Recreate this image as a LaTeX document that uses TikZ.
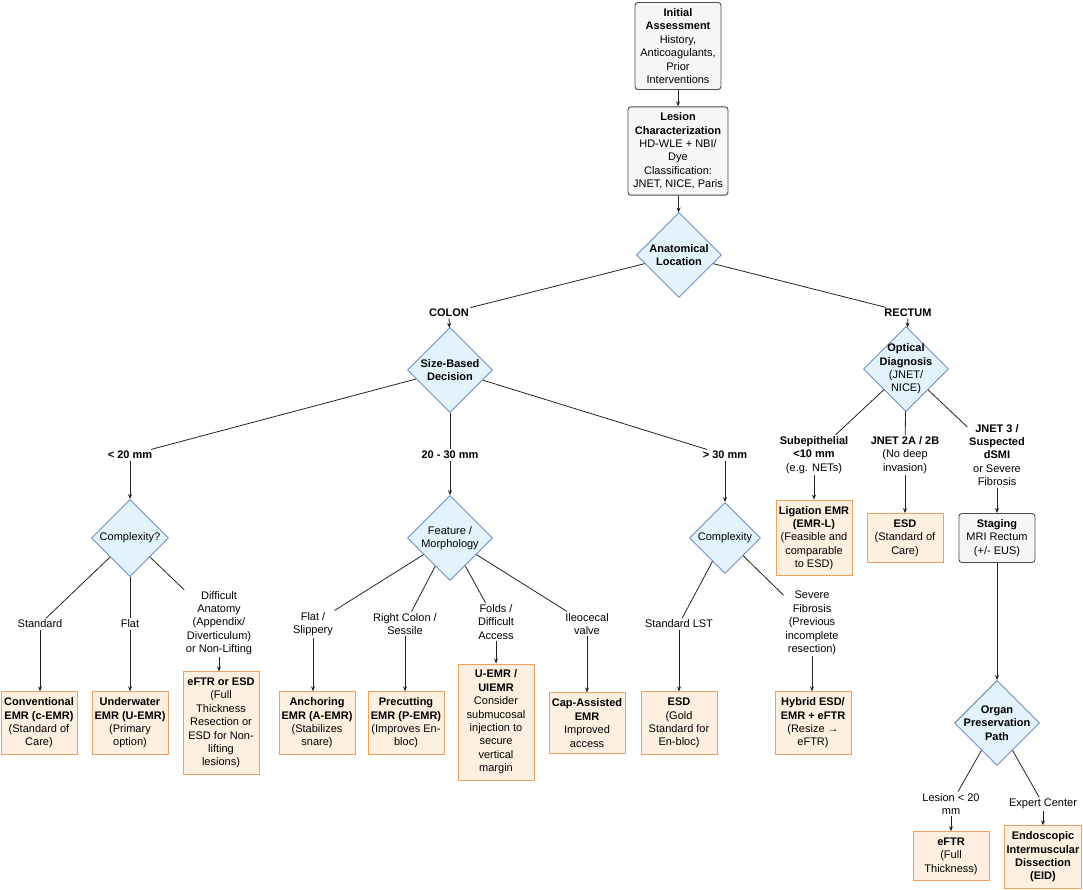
\documentclass[tikz,border=0pt]{standalone}
\usepackage{fontspec}
\setmainfont{Liberation Sans}
\usetikzlibrary{shapes.geometric, arrows.meta}
\definecolor{procfill}{HTML}{F6F6F6}
\definecolor{procdraw}{HTML}{4A4A4A}
\definecolor{actfill}{HTML}{FDF0E0}
\definecolor{actdraw}{HTML}{F2A05E}
\definecolor{decfill}{HTML}{E2F3FC}
\definecolor{decdraw}{HTML}{5B7DB8}
\definecolor{linkcol}{HTML}{222222}
\begin{document}
\begin{tikzpicture}[
    x=1pt, y=-1pt,
    font=\fontsize{11}{13.4}\selectfont,
    base/.style={align=center, inner xsep=2pt, inner ysep=6pt, line width=0.9pt},
    process/.style={base, rectangle, rounded corners=3pt, draw=procdraw, fill=procfill},
    action/.style={base, rectangle, draw=actdraw, fill=actfill, minimum width=76pt},
    decision/.style={diamond, draw=decdraw, fill=decfill, line width=0.8pt, inner sep=0pt, minimum width=#1, minimum height=#1},
    dlabel/.style={align=center, inner sep=0pt},
    edgelbl/.style={align=center, inner sep=1.5pt},
    link/.style={line width=0.8pt, draw=linkcol},
    arrow/.style={link, -{Stealth[length=5pt,width=4pt]}}
]
\useasboundingbox (0,0) rectangle (1083,890);

% Assessment
\node[process, minimum width=86pt] (init) at (678,46) {\textbf{Initial}\\\textbf{Assessment}\\History,\\Anticoagulants,\\Prior\\Interventions};
\node[process, minimum width=100pt] (lesion) at (678,151) {\textbf{Lesion}\\\textbf{Characterization}\\HD-WLE + NBI/\\Dye\\Classification:\\JNET, NICE, Paris};
\node[decision=85pt, label={[dlabel]center:\textbf{Anatomical}\\\textbf{Location}}] (loc) at (679,255) {};

% Colon side
\node[edgelbl, font=\fontsize{11}{13.4}\selectfont\bfseries] (colon) at (449,313) {COLON};
\node[decision=85pt, label={[dlabel]center:\textbf{Size-Based}\\\textbf{Decision}}] (size) at (450,370) {};
\node[edgelbl, font=\fontsize{11}{13.4}\selectfont\bfseries] (l20) at (130,455) {< 20 mm};
\node[edgelbl, font=\fontsize{11}{13.4}\selectfont\bfseries] (l2030) at (450,455) {20 - 30 mm};
\node[edgelbl, font=\fontsize{11}{13.4}\selectfont\bfseries] (l30) at (725,455) {> 30 mm};

% < 20 mm
\node[decision=77pt, label={[dlabel]center:Complexity?}] (cx1) at (130,538) {};
\node[edgelbl] (std) at (40,624) {Standard};
\node[edgelbl] (flat) at (130,624) {Flat};
\node[edgelbl] (diff) at (219,623) {Difficult\\Anatomy\\(Appendix/\\Diverticulum)\\or Non-Lifting};
\node[action] (conv) at (39,723) {\textbf{Conventional}\\\textbf{EMR (c-EMR)}\\(Standard of\\Care)};
\node[action] (uw) at (130,723) {\textbf{Underwater}\\\textbf{EMR (U-EMR)}\\(Primary\\option)};
\node[action] (eftr1) at (221,723) {\textbf{eFTR or ESD}\\(Full\\Thickness\\Resection or\\ESD for Non-\\lifting\\lesions)};

% 20 - 30 mm
\node[decision=85pt, label={[dlabel]center:Feature /\\Morphology}] (feat) at (450,538) {};
\node[edgelbl] (fsl) at (313,624) {Flat /\\Slippery};
\node[edgelbl] (rcs) at (405,624) {Right Colon /\\Sessile};
\node[edgelbl] (fda) at (496,622) {Folds /\\Difficult\\Access};
\node[edgelbl] (ileo) at (587,624) {Ileocecal\\valve};
\node[action] (anch) at (317,723) {\textbf{Anchoring}\\\textbf{EMR (A-EMR)}\\(Stabilizes\\snare)};
\node[action] (precut) at (406,723) {\textbf{Precutting}\\\textbf{EMR (P-EMR)}\\(Improves En-\\bloc)};
\node[action] (uemr) at (496,722) {\textbf{U-EMR /}\\\textbf{UIEMR}\\Consider\\submucosal\\injection to\\secure\\vertical\\margin};
\node[action] (cap) at (587,723) {\textbf{Cap-Assisted}\\\textbf{EMR}\\Improved\\access};

% > 30 mm
\node[decision=71pt, label={[dlabel]center:Complexity}] (cx2) at (725,538) {};
\node[edgelbl] (lst) at (679,624) {Standard LST};
\node[edgelbl] (sev) at (812,623) {Severe\\Fibrosis\\(Previous\\incomplete\\resection)};
\node[action] (esd1) at (679,723) {\textbf{ESD}\\(Gold\\Standard for\\En-bloc)};
\node[action] (hybrid) at (813,723) {\textbf{Hybrid ESD/}\\\textbf{EMR + eFTR}\\(Resize →\\eFTR)};

% Rectum side
\node[edgelbl, font=\fontsize{11}{13.4}\selectfont\bfseries] (rectum) at (908,313) {RECTUM};
\node[decision=85pt, label={[dlabel]center:\textbf{Optical}\\\textbf{Diagnosis}\\(JNET/\\NICE)}] (opt) at (906,369) {};
\node[edgelbl] (sub) at (814,455) {\textbf{Subepithelial}\\\textbf{<10 mm}\\(e.g. NETs)};
\node[edgelbl] (j2) at (905,455) {\textbf{JNET 2A / 2B}\\(No deep\\invasion)};
\node[edgelbl] (j3) at (997,455) {\textbf{JNET 3 /}\\\textbf{Suspected}\\\textbf{dSMI}\\or Severe\\Fibrosis};
\node[action] (lig) at (814,538) {\textbf{Ligation EMR}\\\textbf{(EMR-L)}\\(Feasible and\\comparable\\to ESD)};
\node[action] (esd2) at (905,538) {\textbf{ESD}\\(Standard of\\Care)};
\node[process, minimum width=76pt] (staging) at (997,538) {\textbf{Staging}\\MRI Rectum\\(+/- EUS)};
\node[decision=85pt, label={[dlabel]center:\textbf{Organ}\\\textbf{Preservation}\\\textbf{Path}}] (organ) at (997,723) {};
\node[edgelbl] (les20) at (951,804) {Lesion < 20\\mm};
\node[edgelbl] (expert) at (1043,804) {Expert Center};
\node[action] (eftr2) at (951,856) {\textbf{eFTR}\\(Full\\Thickness)};
\node[action] (eid) at (1043,857) {\textbf{Endoscopic}\\\textbf{Intermuscular}\\\textbf{Dissection}\\\textbf{(EID)}};

% Arrows
\draw[arrow] (init) -- (lesion);
\draw[arrow] (lesion) -- (loc);
\draw[link] (loc) -- (colon);
\draw[arrow] (colon) -- (size);
\draw[link] (loc) -- (rectum);
\draw[arrow] (rectum) -- (opt);
\draw[link] (size) -- (l20);
\draw[link] (size) -- (l2030);
\draw[link] (size) -- (l30);
\draw[arrow] (l20) -- (cx1);
\draw[arrow] (l2030) -- (feat);
\draw[arrow] (l30) -- (cx2);
\foreach \d/\l/\b in {cx1/std/conv, cx1/flat/uw, cx1/diff/eftr1,
                     feat/fsl/anch, feat/rcs/precut, feat/fda/uemr, feat/ileo/cap,
                     cx2/lst/esd1, cx2/sev/hybrid,
                     opt/sub/lig, opt/j2/esd2, opt/j3/staging,
                     organ/les20/eftr2, organ/expert/eid} {
    \draw[link] (\d) -- (\l);
    \draw[arrow] (\l) -- (\l |- \b.north);
}
\draw[arrow] (staging) -- (organ);

\end{tikzpicture}
\end{document}
